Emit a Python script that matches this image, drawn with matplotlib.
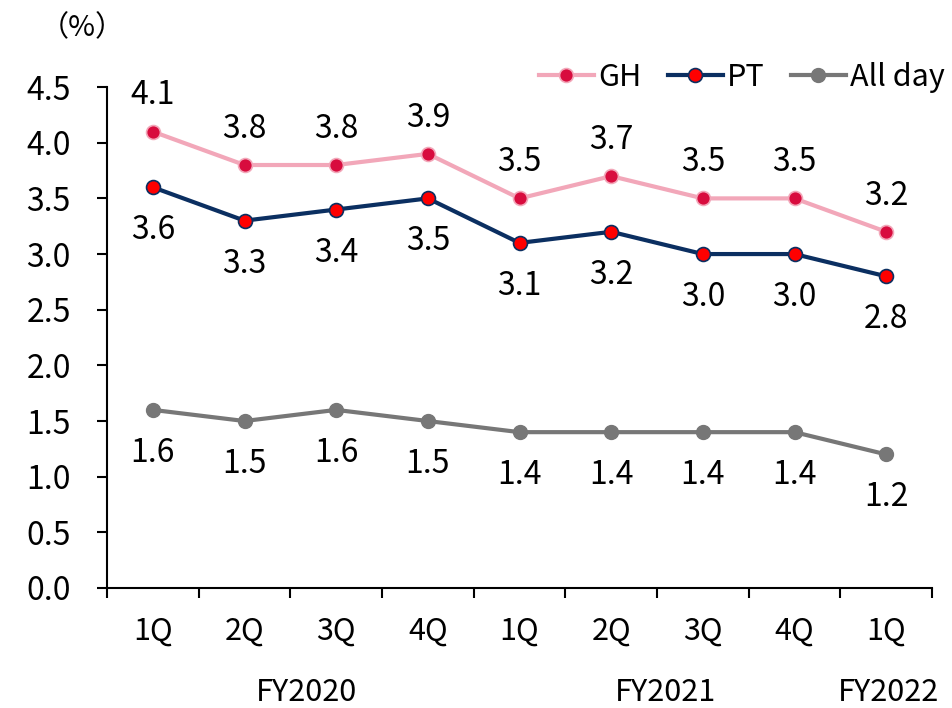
import matplotlib
matplotlib.use("Agg")
import matplotlib.pyplot as plt
from matplotlib.ticker import MultipleLocator, FixedLocator, NullFormatter

plt.rcParams['font.family'] = ['Noto Sans CJK JP', 'DejaVu Sans']

quarters = ["1Q", "2Q", "3Q", "4Q", "1Q", "2Q", "3Q", "4Q", "1Q"]
fiscal_years = ["FY2020", "FY2021", "FY2022"]
fy_pos = [1.68, 5.59, 8.02]  # where the year labels sit, in category units

gh = [4.1, 3.8, 3.8, 3.9, 3.5, 3.7, 3.5, 3.5, 3.2]
pt = [3.6, 3.3, 3.4, 3.5, 3.1, 3.2, 3.0, 3.0, 2.8]
all_day = [1.6, 1.5, 1.6, 1.5, 1.4, 1.4, 1.4, 1.4, 1.2]

fig = plt.figure(figsize=(9.53, 7.08), dpi=100)
ax = fig.add_axes([0.1123, 0.1695, 0.8657, 0.7075])

x = list(range(len(quarters)))

ax.plot(x, gh, color="#F2A7B9", lw=3, marker="o", ms=10,
        mfc="#D80C3E", mec="#F2A7B9", mew=1.2, label="GH", zorder=3)
ax.plot(x, pt, color="#0B2F61", lw=3, marker="o", ms=10,
        mfc="#FF0000", mec="#0B2F61", mew=1.2, label="PT", zorder=3)
ax.plot(x, all_day, color="#777777", lw=3, marker="o", ms=10,
        mfc="#777777", mec="#777777", label="All day", zorder=3)

lab_size = 23
for xi, v in zip(x, gh):
    ax.annotate(f"{v:.1f}", (xi, v), xytext=(0, 26), textcoords="offset points",
                ha="center", va="center", fontsize=lab_size)
for xi, v in zip(x, pt):
    ax.annotate(f"{v:.1f}", (xi, v), xytext=(0, -31), textcoords="offset points",
                ha="center", va="center", fontsize=lab_size)
for xi, v in zip(x, all_day):
    ax.annotate(f"{v:.1f}", (xi, v), xytext=(0, -31), textcoords="offset points",
                ha="center", va="center", fontsize=lab_size)

ax.set_xlim(-0.5, len(quarters) - 0.5)
ax.set_ylim(0, 4.5)
ax.yaxis.set_major_locator(MultipleLocator(0.5))
ax.set_yticklabels([f"{t:.1f}" for t in ax.get_yticks()])
ax.tick_params(axis="y", direction="out", length=7, width=1.5, pad=19,
               labelsize=23)

# boundaries as ticks, quarter names as minor labels
ax.xaxis.set_major_locator(FixedLocator([i - 0.5 for i in range(len(quarters) + 1)]))
ax.xaxis.set_major_formatter(NullFormatter())
ax.xaxis.set_minor_locator(FixedLocator(x))
ax.set_xticklabels(quarters, minor=True)
ax.tick_params(axis="x", which="major", direction="out", length=7, width=1.5)
ax.tick_params(axis="x", which="minor", length=0, pad=20, labelsize=22)

for fy, p in zip(fiscal_years, fy_pos):
    ax.annotate(fy, (p, 0), xytext=(0, -75), textcoords="offset points",
                ha="center", va="center", fontsize=22, annotation_clip=False)

for side in ["top", "right"]:
    ax.spines[side].set_visible(False)
for side in ["left", "bottom"]:
    ax.spines[side].set_linewidth(1.5)

fig.text(0.086, 0.96, "（%）", ha="center", va="center", fontsize=21)

ax.legend(loc="center right", bbox_to_anchor=(1.016, 1.02), ncol=3, frameon=False,
          fontsize=22, handlelength=1.8, handletextpad=0.15, columnspacing=0.85,
          borderpad=0, borderaxespad=0)

fig.savefig("out.png", dpi=100, facecolor="white")
